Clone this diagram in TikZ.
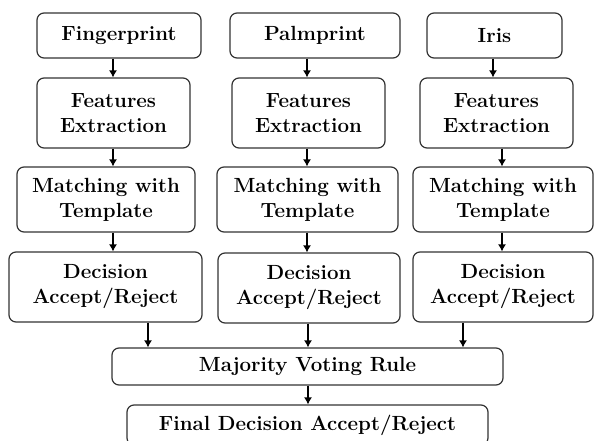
\documentclass[tikz,border=0pt]{standalone}
\usetikzlibrary{arrows.meta}
\tikzset{
  blk/.style={draw=black!80,line width=1.2pt,rounded corners=7pt,align=center,inner sep=0pt,
    font=\fontsize{20.5}{25}\selectfont\bfseries},
  >={Latex[length=7pt,width=8pt]},
}
\begin{document}
\begin{tikzpicture}[x=1pt,y=-1pt,line width=1.2pt]
    \clip (0,0) rectangle (595,440);
    % first row: sources
    \node[blk,minimum width=164pt,minimum height=45pt] (fp1) at (119,35.5) {Fingerprint};
    \node[blk,minimum width=170pt,minimum height=45pt] (fp2) at (315,35.5) {Palmprint};
    \node[blk,minimum width=135pt,minimum height=45pt] (fp3) at (494.5,35.5) {Iris};
    % features
    \node[blk,minimum width=153pt,minimum height=70pt] (fe1) at (113.5,113) {Features\\Extraction};
    \node[blk,minimum width=153pt,minimum height=70pt] (fe2) at (308.5,113) {Features\\Extraction};
    \node[blk,minimum width=153pt,minimum height=70pt] (fe3) at (496.5,113) {Features\\Extraction};
    % matching
    \node[blk,minimum width=178pt,minimum height=65pt] (mt1) at (106,199.5) {Matching with\\Template};
    \node[blk,minimum width=181pt,minimum height=65pt] (mt2) at (307.5,199.5) {Matching with\\Template};
    \node[blk,minimum width=180pt,minimum height=65pt] (mt3) at (503,199.5) {Matching with\\Template};
    % decisions
    \node[blk,minimum width=193pt,minimum height=70pt] (dc1) at (105.5,287) {Decision\\Accept/Reject};
    \node[blk,minimum width=182pt,minimum height=70pt] (dc2) at (309,288) {Decision\\Accept/Reject};
    \node[blk,minimum width=180pt,minimum height=70pt] (dc3) at (503,287) {Decision\\Accept/Reject};
    % fusion
    \node[blk,minimum width=391pt,minimum height=37pt] (mv) at (307.5,366.5) {Majority Voting Rule};
    \node[blk,minimum width=361pt,minimum height=40pt] (fd) at (307.5,425) {Final Decision Accept/Reject};

    \coordinate (c1) at (113,0);
    \coordinate (c2) at (307,0);
    \coordinate (c3) at (502,0);
    \coordinate (c3a) at (493,0);
    \coordinate (d1) at (148,0);
    \coordinate (d2) at (308,0);
    \coordinate (d3) at (463,0);

    \draw[->] (fp1.south -| c1) -- (fe1.north -| c1);
    \draw[->] (fe1.south -| c1) -- (mt1.north -| c1);
    \draw[->] (mt1.south -| c1) -- (dc1.north -| c1);
    \draw[->] (fp2.south -| c2) -- (fe2.north -| c2);
    \draw[->] (fe2.south -| c2) -- (mt2.north -| c2);
    \draw[->] (mt2.south -| c2) -- (dc2.north -| c2);
    \draw[->] (fp3.south -| c3a) -- (fe3.north -| c3a);
    \draw[->] (fe3.south -| c3) -- (mt3.north -| c3);
    \draw[->] (mt3.south -| c3) -- (dc3.north -| c3);
    \draw[->] (dc1.south -| d1) -- (mv.north -| d1);
    \draw[->] (dc2.south -| d2) -- (mv.north -| d2);
    \draw[->] (dc3.south -| d3) -- (mv.north -| d3);
    \draw[->] (mv.south -| d2) -- (fd.north -| d2);
\end{tikzpicture}
\end{document}
